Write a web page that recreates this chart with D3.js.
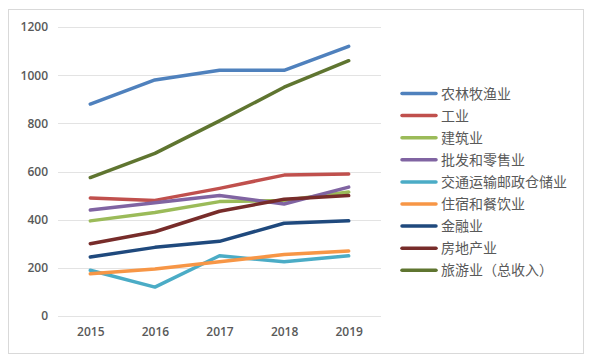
<!DOCTYPE html>
<html>
<head>
<meta charset="utf-8">
<script src="https://cdn.jsdelivr.net/npm/d3@7"></script>
<style>
	body { margin: 0; background: #fff; }
	svg { display: block; }
	text { font-family: "Open Sans", "Noto Sans CJK SC", sans-serif; fill: #595959; }
</style>
</head>
<body>
<script>
//data
const years = ["2015", "2016", "2017", "2018", "2019"];
const seriesNames = ["农林牧渔业", "工业", "建筑业", "批发和零售业", "交通运输邮政仓储业", "住宿和餐饮业", "金融业", "房地产业", "旅游业（总收入）"];
const seriesColors = ["#4F81BD", "#C0504D", "#9BBB59", "#8064A2", "#4BACC6", "#F79646", "#1F497D", "#772C2A", "#5F7530"];
const agriculture = [880, 980, 1020, 1020, 1120];
const industry = [490, 480, 530, 585, 590];
const construction = [395, 430, 475, 480, 515];
const retail = [440, 470, 500, 465, 535];
const transport = [190, 120, 250, 225, 250];
const hotel = [175, 195, 225, 255, 270];
const finance = [245, 285, 310, 385, 395];
const realEstate = [300, 350, 435, 485, 500];
const tourism = [575, 675, 810, 950, 1060];
const yTicks = [0, 200, 400, 600, 800, 1000, 1200];

const allValues = [agriculture, industry, construction, retail, transport, hotel, finance, realEstate, tourism];

const W = 596, H = 363;
const plot = {left: 58, right: 381, top: 27, bottom: 316};

const svg = d3.select("body").append("svg")
	.attr("width", W)
	.attr("height", H);

//outer frame
svg.append("rect")
	.attr("x", 8.5).attr("y", 9.5)
	.attr("width", 575).attr("height", 344)
	.attr("fill", "#fff")
	.attr("stroke", "#d9d9d9");

//scales
const xScale = d3.scalePoint().domain(years).range([plot.left, plot.right]).padding(0.5);
const yScale = d3.scaleLinear().domain([0, 1200]).range([plot.bottom, plot.top]);

//grid lines
svg.append("g")
	.selectAll("line")
	.data(yTicks)
	.enter().append("line")
	.attr("x1", plot.left).attr("x2", plot.right)
	.attr("y1", d => Math.round(yScale(d)) + 0.5)
	.attr("y2", d => Math.round(yScale(d)) + 0.5)
	.attr("stroke", "#e3e3e3")
	.attr("stroke-width", 1.2);

//y axis labels
const yAxis = d3.axisLeft(yScale).tickValues(yTicks).tickFormat(d3.format("d")).tickSize(0).tickPadding(0);
svg.append("g")
	.attr("transform", "translate(48,0)")
	.call(yAxis)
	.call(g => g.select(".domain").remove())
	.selectAll("text")
	.attr("font-size", 12)
	.attr("font-weight", 600)
	.style("font-family", "'Open Sans', sans-serif");

//x axis labels
const xAxis = d3.axisBottom(xScale).tickSize(0).tickPadding(0);
svg.append("g")
	.attr("transform", "translate(0,327)")
	.call(xAxis)
	.call(g => g.select(".domain").remove())
	.selectAll("text")
	.attr("font-size", 12)
	.attr("font-weight", 600)
	.style("font-family", "'Open Sans', sans-serif");

//lines
const line = d3.line()
	.x((d, i) => xScale(years[i]))
	.y(d => yScale(d));

svg.append("g")
	.selectAll("path")
	.data(allValues)
	.enter().append("path")
	.attr("d", line)
	.attr("fill", "none")
	.attr("stroke", (d, i) => seriesColors[i])
	.attr("stroke-width", 3.5)
	.attr("stroke-linejoin", "round")
	.attr("stroke-linecap", "round");

//legend
const legend = svg.append("g")
	.selectAll("g")
	.data(seriesNames)
	.enter().append("g")
	.attr("transform", (d, i) => "translate(402," + (93.5 + i * 22.1) + ")");

legend.append("line")
	.attr("x1", 0).attr("x2", 34)
	.attr("stroke", (d, i) => seriesColors[i])
	.attr("stroke-width", 3.5)
	.attr("stroke-linecap", "round");

legend.append("text")
	.attr("x", 39)
	.attr("dy", "0.36em")
	.attr("font-size", 14)
	.style("font-family", "'Noto Sans CJK SC', sans-serif")
	.text(d => d);
</script>
</body>
</html>
